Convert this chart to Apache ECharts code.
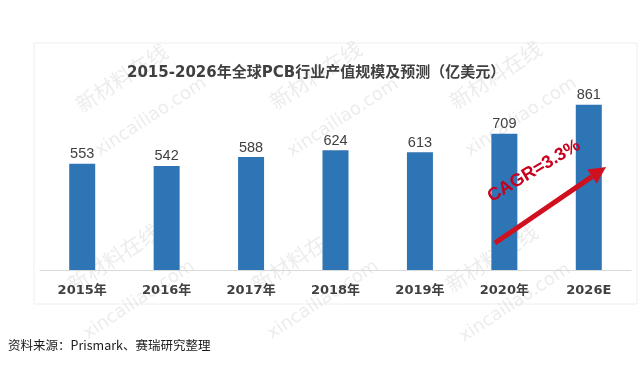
<!DOCTYPE html>
<html><head><meta charset="utf-8">
<script src="https://cdn.jsdelivr.net/npm/echarts@6/dist/echarts.min.js"></script>
<style>html,body{margin:0;padding:0;background:#fff}#c{width:640px;height:388px}</style>
</head><body><div id="c"></div>
<script>
const categories = ['2015年','2016年','2017年','2018年','2019年','2020年','2026E'];
const values = [553, 542, 588, 624, 613, 709, 861];
const titleText = '2015-2026年全球PCB行业产值规模及预测（亿美元）';
const sourceText = '资料来源：Prismark、赛瑞研究整理';
const cagrText = 'CAGR=3.3%';

const chart = echarts.init(document.getElementById('c'), null, {renderer:'canvas'});
const wmColor = 'rgba(170,170,170,0.22)';
const wm = [];
[[123,80,'新材料在线',21],[151,117,'xincailiao.com',18],
 [317,77,'新材料在线',21],[343,118,'xincailiao.com',18],
 [497,77,'新材料在线',21],[521,117,'xincailiao.com',18],
 [115,260,'新材料在线',21],[139,300,'xincailiao.com',18],
 [299,260,'新材料在线',21],[323,300,'xincailiao.com',18],
 [493,260,'新材料在线',21],[515,303,'xincailiao.com',18]].forEach(w=>{
  wm.push({type:'text', x:w[0], y:w[1], rotation:0.58, z:-1, silent:true,
    style:{text:w[2], fill:wmColor, font:'normal '+w[3]+'px "DejaVu Sans","Noto Sans CJK SC"', align:'center', verticalAlign:'middle'}});
});

// arrow
const tip=[606,167], tail=[495,243];
const dx=tip[0]-tail[0], dy=tip[1]-tail[1], L=Math.hypot(dx,dy), ux=dx/L, uy=dy/L, nx=-uy, ny=ux;
const hl=17, hw=8.5;
const base=[tip[0]-hl*ux, tip[1]-hl*uy];

chart.setOption({
  backgroundColor:'#fff',
  animation:false,
  title:{text:titleText, left:122, top:61, textStyle:{fontSize:15, fontWeight:'bold', color:'#404040', fontFamily:'"DejaVu Sans","Noto Sans CJK SC"'}},
  grid:{left:40, right:9, top:78, bottom:118},
  xAxis:{type:'category', data:categories,
    axisLine:{lineStyle:{color:'#d9d9d9', width:1}}, axisTick:{show:false},
    axisLabel:{margin:14, fontSize:13, fontWeight:'bold', color:'#404040', fontFamily:'"DejaVu Sans","Noto Sans CJK SC"'}},
  yAxis:{type:'value', min:0, max:1000, show:false, splitLine:{show:false}},
  series:[{type:'bar', data:values, barWidth:26, itemStyle:{color:'#2e75b6'},
    label:{show:true, position:'top', distance:2, fontSize:14.5, color:'#404040', fontFamily:'"Liberation Sans",Arial'}}],
  graphic:[
    {type:'rect', shape:{x:34,y:43,width:603,height:261}, style:{fill:'none', stroke:'#eeeeee', lineWidth:1}, z:-2, silent:true},
    ...wm,
    {type:'line', shape:{x1:tail[0],y1:tail[1],x2:base[0],y2:base[1]}, style:{stroke:'#d0101e', lineWidth:5}, z:10},
    {type:'polygon', shape:{points:[tip,[base[0]+hw*nx,base[1]+hw*ny],[base[0]-hw*nx,base[1]-hw*ny]]}, style:{fill:'#d0101e'}, z:10},
    {type:'text', x:534, y:171, rotation:0.54, z:10,
      style:{text:cagrText, fill:'#c8001c', font:'bold 18px "Liberation Sans",Arial', align:'center', verticalAlign:'middle'}},
    {type:'text', left:8, top:339, style:{text:sourceText, fill:'#1a1a1a', font:'normal 12.5px "Noto Sans CJK SC"'}}
  ]
});
</script></body></html>
